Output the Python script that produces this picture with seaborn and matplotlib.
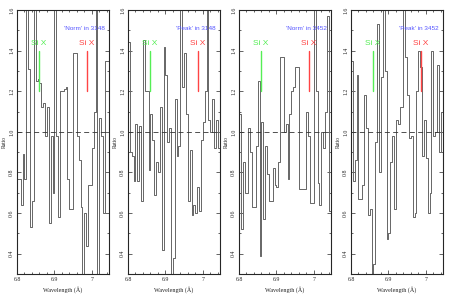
import numpy as np
import matplotlib
matplotlib.use("Agg")
import matplotlib.pyplot as plt
import seaborn as sns
from matplotlib.ticker import MultipleLocator

# ratio spectra, 0.005 A bins starting at 6.8 A
bin_start = 6.8
bin_width = 0.005

ratio_norm_3148 = [0.77, 0.77, 0.64, 0.89, 0.77, 1.70, 1.31, 0.53, 0.66, 1.70,
                   1.25, 1.26, 1.24, 1.12, 1.14, 0.98, 1.12, 0.55, 0.98, 0.70,
                   1.70, 0.98, 0.58, 1.20, 1.20, 1.21, 1.22, 0.77, 0.62, 0.62,
                   1.39, 1.39, 0.98, 0.86, 0.63, 0.30, 0.60, 0.44, 0.74, 0.74,
                   0.92, 1.10, 1.70, 0.25, 1.07, 0.98, 0.60, 1.35, 1.35, 1.30]
ratio_peak_3148 = [1.44, 0.90, 0.88, 0.76, 1.04, 0.76, 1.03, 0.66, 1.45, 1.20,
                   1.20, 0.81, 1.09, 0.96, 0.69, 0.85, 0.80, 1.12, 0.42, 1.42,
                   1.28, 0.95, 1.02, 0.22, 0.38, 1.16, 0.88, 0.93, 1.70, 1.22,
                   1.39, 1.09, 0.66, 0.91, 0.59, 0.64, 0.60, 0.73, 0.61, 0.96,
                   1.05, 1.20, 1.70, 1.06, 1.00, 1.16, 0.92, 1.06, 0.92, 0.91]
ratio_norm_3452 = [1.09, 0.52, 0.85, 0.70, 0.70, 1.02, 0.90, 0.63, 0.63, 0.93,
                   1.25, 0.39, 1.05, 0.57, 0.93, 0.79, 0.66, 0.66, 0.82, 0.74,
                   0.73, 0.85, 1.37, 1.37, 1.00, 1.04, 0.77, 1.09, 1.20, 1.22,
                   1.32, 1.32, 0.72, 0.72, 0.72, 0.72, 1.10, 0.98, 0.65, 0.65,
                   1.70, 1.20, 0.75, 0.64, 1.00, 0.92, 1.10, 1.57, 0.61, 0.90]
ratio_peak_3452 = [1.35, 0.76, 0.86, 1.28, 0.67, 0.67, 0.74, 1.18, 1.02, 0.59,
                   0.62, 0.25, 0.35, 0.95, 1.53, 0.80, 1.27, 1.65, 1.30, 0.47,
                   0.50, 0.85, 0.98, 0.62, 1.06, 1.04, 1.12, 1.12, 1.70, 1.37,
                   1.18, 0.97, 0.98, 0.58, 0.60, 1.20, 1.40, 1.32, 0.88, 1.06,
                   0.87, 0.60, 0.70, 1.40, 0.98, 1.00, 1.33, 0.90, 1.10, 0.90]

panel_labels = ["'Norm' in 3148", "'Peak' in 3148", "'Norm' in 3452", "'Peak' in 3452"]
panel_data = [ratio_norm_3148, ratio_peak_3148, ratio_norm_3452, ratio_peak_3452]

si_green = 6.858
si_red = 6.986
line_lo, line_hi = 1.2, 1.4

sns.set_style("ticks")
plt.rcParams['font.family'] = ['Liberation Serif', 'DejaVu Serif']

fig = plt.figure(figsize=(4.49, 2.95), dpi=100)
lefts = [17, 128, 239, 351]
for left, vals, label in zip(lefts, panel_data, panel_labels):
    ax = fig.add_axes([left / 449, 21 / 295, 92 / 449, 264 / 295])
    edges = bin_start + bin_width * np.arange(len(vals) + 1)
    yy = np.append(vals, vals[-1])
    sns.lineplot(x=edges, y=yy, ax=ax, drawstyle='steps-post', color='#666666', lw=0.7)
    ax.axhline(1.0, color='#333333', lw=0.6, ls=(0, (6, 4)))
    ax.plot([si_green, si_green], [line_lo, line_hi], color='#55ee55', lw=1.0)
    ax.plot([si_red, si_red], [line_lo, line_hi], color='#ff4444', lw=1.0)
    ax.text(si_green, 1.42, 'Si X', color='#55ee55', fontsize=6, ha='center',
            va='bottom', family=['Liberation Sans'])
    ax.text(si_red, 1.42, 'Si X', color='#ff4444', fontsize=6, ha='center',
            va='bottom', family=['Liberation Sans'])
    ax.text(6.98, 1.51, label, color='#5555ff', fontsize=4.6, ha='center',
            va='center', family=['Liberation Sans'])
    ax.set_xlim(6.8, 7.046)
    ax.set_ylim(0.3, 1.6)
    ax.xaxis.set_major_locator(MultipleLocator(0.1))
    ax.xaxis.set_minor_locator(MultipleLocator(0.02))
    ax.yaxis.set_major_locator(MultipleLocator(0.2))
    ax.yaxis.set_minor_locator(MultipleLocator(0.1))
    ax.set_xticks([6.8, 6.9, 7.0])
    ax.set_xticklabels(['6.8', '6.9', '7'])
    ax.tick_params(which='both', direction='in', top=True, right=True,
                   labelsize=4.2, width=0.5, pad=2)
    ax.tick_params(which='major', length=3)
    ax.tick_params(which='minor', length=1.5)
    for t in ax.get_yticklabels():
        t.set_rotation(90)
        t.set_va('center')
    for s in ax.spines.values():
        s.set_linewidth(0.8)
    ax.set_xlabel('Wavelength (Å)', fontsize=4.4, labelpad=3)
    ax.set_ylabel('Ratio', fontsize=4.0, labelpad=2)

plt.savefig('out.png', dpi=100)
